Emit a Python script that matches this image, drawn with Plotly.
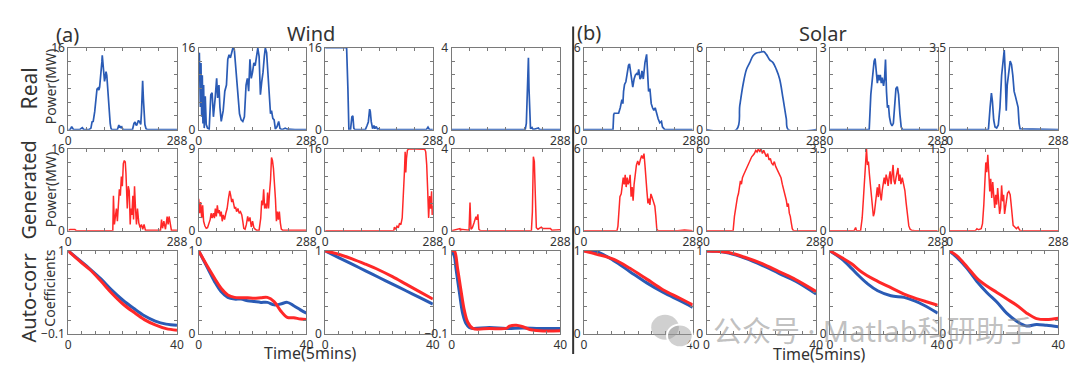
import plotly.graph_objects as go

BLUE = "#2a5bb5"
RED = "#ff2828"

# ---------------- Row 1: real power (wind 1-4, solar 5-8) ----------------
real_c1_x = [0,5,9,11,14,30,37,39,41,55,60,63,66,70,73,76,79,81,83,85,87,89,90,92,93,95,96,98,100,102,104,107,109,111,113,115,130,134,136,138,140,142,145,170,174,177,179,181,183,186,189,192,194,196,197,199,201,203,206,210,288]
real_c1_y = [0,0,0.6,0.2,0,0,0.4,0.2,0,0,0.3,1.5,1.6,3.5,5.8,7.9,8.1,7.7,8.3,9.8,10.7,13.2,14.5,13.0,11.6,10.5,9.4,10.2,11.3,10.6,8.0,5.0,3.0,1.2,0.3,0,0,0.9,0.4,0.7,0.3,0.5,0,0,1.2,1.5,1.0,0.8,1.2,1.8,1.5,1.0,3.5,7.0,9.5,6.0,2.5,1.0,0.2,0,0]

real_c2_x = [0,1.7,4.4,6.1,7.9,9.6,11.3,13.1,14.8,17.5,20.1,23.6,28,32.3,35.8,39.3,43.7,48,50.6,54.1,56.7,60.2,65.5,69.8,74.2,77.7,81.2,84.7,88.2,91.7,95.2,98.6,101.3,104.8,109.1,113.5,117.9,122.2,126.6,130.1,133.6,137,140.5,144,147.5,151,154.5,158,161.5,165,168.5,172,175.5,178.1,181.6,185,188.6,192,194.7,198.2,201.7,205,209.5,213.9,217.4,222.6,231.3,236.6,257.5,288]
real_c2_y = [14,15,4.4,13,2.5,10.6,1.2,8.7,0.3,6.5,1.0,0.3,0.1,6.8,7.2,2.5,5.9,10,6.2,8.7,4.4,1.6,3.7,7.5,8.7,13.7,14.6,14,15,16,15.6,12.5,10.6,5.6,3.1,1.9,1.6,2.5,8.7,10,7.5,13.7,10,11.2,13,12.5,14.3,15.9,14.3,6.8,9.3,11.2,14.3,15.9,15,10.6,6.2,3.1,3.7,2.2,1.9,0.1,0.6,1.6,0.25,0,0.3,0.1,0,0]

real_c3_x = [0,57.3,60.8,63.4,67.8,71.4,74,76.6,79.3,107.5,112,115.4,118.9,120.7,123.3,126.9,130.4,133,136.6,140,143.6,147,270.5,275,279,288]
real_c3_y = [16,16,8,0,0,2.5,2.7,0.3,0,0,0.8,1.5,4.0,3.5,1.5,0.2,0.8,0.2,0.6,0.1,0.2,0,0,0.5,0,0]

real_c4_x = [0,195,198,200,202,203.5,205,207,209,213,216,230,233,288]
real_c4_y = [0,0,0.3,2.0,3.5,3.5,2.0,0.3,0.05,0.1,0,0.08,0,0]

real_c5_x = [0,76.8,78.6,80.3,91.7,96,100.4,103,104.8,107.4,110.9,113.5,117.9,120.5,124,126.6,129.2,132.7,136.2,139.7,142.3,144.9,148.4,151,153.6,157.1,161.5,165.9,168.5,171.1,174.6,178.1,181.6,185.1,188.6,192.1,196.4,200.8,205.2,207.8,211.3,213.9,288]
real_c5_y = [0,0,1.1,1.2,1.2,1.6,2.2,1.9,2.8,3.3,3.5,4.0,4.7,4.8,4.2,3.6,3.1,3.7,4.0,4.1,4.0,4.4,3.7,3.8,4.3,3.7,4.9,5.5,4.4,2.8,3.0,1.9,1.6,1.4,1.6,1.2,0.8,0.5,0.6,0.2,0.05,0,0]

real_c6_x = [0,78.6,87.3,96,104.8,113.5,122.2,131,139.7,150.2,157.1,165.9,174.6,183.3,192,200.8,209.5,214.8,288]
real_c6_y = [0,0,1.75,3.3,4.4,4.9,5.4,5.6,5.65,5.7,5.5,5.1,4.9,4.4,3.7,2.3,0.8,0,0]

real_c7_x = [0,104.8,109.1,113.5,117.9,120.5,124,126.6,129.2,131.8,134.4,137.1,139.7,143.2,145.8,148.4,151,153.6,156.3,158.9,162.4,165.9,169.4,172.9,176.3,179.8,183.3,186.8,190.3,193.8,288]
real_c7_y = [0,0,1.28,1.98,2.5,2.6,2.2,1.7,2.0,1.8,2.0,1.7,1.9,1.6,1.85,2.56,1.4,0.8,0.9,0.47,0.23,0.14,0.23,0.8,1.5,1.57,1.28,0.58,0.1,0,0]

real_c8_x = [0,103,107.4,110.9,113.5,117,120.5,124.8,129.2,133.6,137.9,142.3,144.9,147.5,150.2,152.8,155.4,158,160.6,164.1,167.6,171.1,174.6,178.1,181.6,184.2,186.8,288]
real_c8_y = [0,0,0.95,1.56,1.22,0.41,0.11,0.07,0.2,0.95,2.31,3.12,3.39,2.44,0.81,1.9,2.17,2.58,2.92,2.78,2.31,1.63,1.42,1.22,0.95,0.27,0.03,0]

# ---------------- Row 2: generated power ----------------
gen_c1_x = [0,4.4,17.5,21.8,117.9,119.6,122.2,124.8,127.5,130.1,132.7,135.3,137.9,140.6,143.2,145.8,148.4,151,152.8,154.5,156.3,158.9,161.5,164.1,165.9,168.5,171.1,172.9,175.5,178.1,180.7,183.3,186.8,190.3,193.8,197.3,200.8,204.3,244.4,247.1,249.7,253.2,257.5,261.9,264.5,267.1,270.6,273.2,288]
gen_c1_y = [0.1,0.25,0.25,0,0,6.85,1.25,2.5,4.36,1.87,5.6,8.1,6.85,10.6,8.7,13.1,13.7,13.4,11.2,8.1,4.36,8.7,7.8,1.25,4.36,3.1,6.85,2.2,8.7,4.36,1.25,4.36,1.56,0.62,1.25,0.31,1.25,0.12,0.12,2.2,0.5,1.87,0.31,2.8,1.25,2.8,0.93,0.12,0.12]

gen_c2_x = [0,2.6,5.2,7.9,10.5,13.1,16.6,20.1,23.6,27.1,30.6,33.2,35.8,39.3,41.9,44.5,47.1,49.8,52.4,55,57.6,60.2,62.9,65.5,69,72.5,76,79.4,82.9,85.6,88.2,90.8,93.4,96,98.6,101.3,104.8,108.3,111.7,115.2,117.9,120.5,124,127.5,131,133.6,137.1,140.6,144,147.5,151,154.5,161.5,165.9,168.5,171.1,173.7,176.3,179,181.6,184.2,186.8,189.4,192.1,194.7,197.3,199.9,202.5,205.2,207.8,210.4,213,215.6,218.3,220.9,224.4,288]
gen_c2_y = [3.5,1.93,3.15,1.4,2.8,1.05,0.53,0.28,0.35,0.7,1.23,1.93,1.4,1.93,1.4,2.45,1.58,2.8,1.93,2.28,1.58,2.1,1.05,1.75,1.23,1.93,2.45,3.5,4.38,3.85,3.15,3.5,2.8,2.45,2.63,2.1,2.45,1.93,2.1,1.75,1.05,0.28,0.18,0.7,1.58,1.05,1.47,0.42,1.05,0.35,0.18,0.07,0.07,1.4,3.33,2.8,4.55,2.45,2.98,2.45,4.2,2.45,4.2,5.6,8.05,7.7,6.83,5.6,3.5,1.05,2.1,1.23,2.1,0.88,0.18,0.07,0.07]

gen_c3_x = [0,183.3,185.1,188.6,192.1,195.6,199,202.5,206,209.5,212.1,213.9,215.6,217.4,220,223.5,235.7,253.2,266.3,268.9,271.5,274.1,276.7,279.4,282,284.6,286.3,288]
gen_c3_y = [0,0,0.7,0.3,0.9,0.6,1.5,1.2,2.5,6.8,11.7,15.4,11.4,14.1,15.7,16,16,16,15.9,15.4,12.9,8.0,2.5,6.8,4.3,7.7,3.1,4.9]

gen_c4_x = [0,21.8,23.5,25.2,46.1,48.7,51.3,54.8,59.2,61.8,64.4,67,69.6,72.2,76.6,211.4,214,216.6,219.2,221.9,224.5,228.8,237.5,241,261.9,265.4,285.4,288]
gen_c4_y = [0,0.11,0,0.08,0.03,1.38,0.08,0.15,0.38,0.62,0.69,0.54,0.8,0.08,0,0,0.92,3.61,3.38,1.69,0.15,0.08,0.18,0.12,0.11,0.03,0.08,0.05]

gen_c5_x = [0,87.3,89.9,92.5,95.2,98.6,101.3,103.9,106.5,109.1,111.7,114.4,117,119.6,122.2,124.8,127.5,130.1,132.7,135.3,138.8,142.3,145.8,149.3,152.8,156.3,158.9,161.5,164.1,166.7,169.4,172,174.6,177.2,179.8,182.5,185.1,187.7,190.3,192.9,196.4,248.8,266.3,288]
gen_c5_y = [0,0,0.35,1.5,2.5,2.7,3.4,3.9,3.4,4.1,3.2,3.9,3.4,3.6,4.1,2.5,3.2,2.2,3.4,4.1,4.8,5.1,4.8,5.2,5.5,5.3,5.65,4.8,4.1,2.9,2.0,2.35,1.9,2.7,2.5,2.2,2.1,1.8,1.06,0.12,0,0,0.07,0]

gen_c6_x = [0,69.8,73.3,75.9,78.6,81.2,83.8,86.4,89,91.7,94.3,97.8,101.3,104.8,108.3,111.7,115.2,118.7,122.2,125.7,129.2,132.7,136.2,139.7,143.2,146.7,150.2,153.6,157.1,160.6,164.1,167.6,171.1,174.6,178.1,181.6,185.1,188.6,192.1,195.6,199,202.5,206,209.5,212.1,214.8,217.4,220,222.6,225.2,228.7,288]
gen_c6_y = [0,0,1.06,1.76,2.0,2.47,2.71,3.18,3.65,3.41,3.88,4.12,4.35,4.47,4.82,4.94,5.18,5.41,5.53,5.65,5.88,5.76,6,5.76,6,5.65,5.88,5.65,5.41,5.65,5.18,5.29,4.94,4.82,5.06,4.71,4.47,4.24,4.12,3.88,3.41,3.06,2.71,2.24,1.76,2.0,1.29,1.06,0.59,0.16,0,0]

gen_c7_x = [0,64.1,68.5,71.1,81.7,86,89.6,93.1,95.7,97.5,100.1,102.7,105.4,108,110.6,113.3,115.9,118.5,121.2,123.8,126.4,129.1,131.7,134.3,137,139.6,142.2,144.9,147.5,150.1,152.8,155.4,158,160.7,163.3,165.9,168.6,171.2,173.8,176.5,179.1,181.7,184.4,187,189.6,193.2,196.7,200.2,203.7,207.2,210.7,214.2,217.7,226.5,288]
gen_c7_y = [0,0,0.14,0,0,0.55,1.44,2.27,3.36,3.5,2.81,2.95,2.4,1.99,1.44,0.89,0.62,0.76,1.17,1.72,1.85,1.44,1.99,1.58,1.3,1.72,1.99,2.27,1.99,2.4,2.2,1.92,2.27,2.54,1.99,2.4,2.81,2.13,1.99,2.27,2.47,2.68,2.13,2.4,1.99,2.27,1.99,1.72,1.17,0.62,0.21,0.07,0.03,0,0]

gen_c8_x = [0,68.1,72.5,76.8,83.8,87.3,90.8,93.4,96,98.6,101.3,103.9,106.5,109.1,111.7,114.4,117,119.6,122.2,124.8,127.5,130.1,132.7,135.3,137.9,140.6,143.2,145.8,148.4,151,153.6,157.1,160.6,163.3,165.9,168.5,172.9,177.2,181.6,186,190.3,288]
gen_c8_y = [0,0,0.04,0.02,0.04,0.13,0.48,0.95,1.25,1.07,1.39,1.07,0.72,0.95,0.6,0.89,0.54,0.42,0.66,0.48,0.78,0.54,0.31,0.42,0.83,0.54,0.66,0.31,0.45,0.6,0.69,0.72,0.66,0.48,0.25,0.1,0.07,0.04,0.07,0.01,0,0]

# ---------------- Row 3: auto-correlation coefficients (lag 0..40) ----------------
ac_c1_x = [0,4,8,12,16,20,24,28,32,36,40]
ac_c1_real = [1.0,0.88,0.76,0.63,0.48,0.35,0.24,0.14,0.07,0.03,0.015]
ac_c1_gen = [1.0,0.87,0.75,0.60,0.44,0.30,0.19,0.09,0.02,-0.03,-0.05]

ac_c2_x = [0,3.4,5.9,8.3,10.8,13.3,15.7,18.2,20.6,23.1,25.5,28,30.4,32.9,35.3,37.8,40]
ac_c2_real = [1,0.786,0.63,0.51,0.44,0.42,0.42,0.40,0.39,0.38,0.38,0.35,0.36,0.38,0.34,0.29,0.25]
ac_c2_gen = [1,0.805,0.67,0.55,0.47,0.44,0.436,0.436,0.43,0.436,0.44,0.39,0.28,0.20,0.195,0.18,0.175]

ac_c3_x = [0,5,10,15,20,25,30,35,40]
ac_c3_real = [1,0.92,0.84,0.76,0.68,0.60,0.52,0.44,0.36]
ac_c3_gen = [1,0.96,0.905,0.84,0.77,0.69,0.60,0.51,0.42]

ac_c4_x_real = [0,1,1.6,2.8,4.1,5.3,6.5,7.8,13.9,20.1,26.2,32.4,40]
ac_c4_real = [1,0.93,0.765,0.465,0.165,0.037,-0.014,-0.027,-0.014,-0.027,-0.02,-0.027,-0.027]
ac_c4_x_gen = [0,1,2.2,3.4,4.7,5.9,7.8,13.9,20.1,21.3,23.8,26.2,28.7,32.4,40]
ac_c4_gen = [1,1.0,0.765,0.486,0.208,0.058,-0.027,-0.027,-0.027,0.003,0.015,-0.005,-0.04,-0.057,-0.057]

ac_c5_x = [0,4.7,10.8,16.9,23.1,29.2,35.3,40]
ac_c5_real = [1,0.99,0.885,0.75,0.615,0.5,0.40,0.32]
ac_c5_gen = [1,0.96,0.90,0.79,0.66,0.53,0.43,0.35]

ac_c6_x = [0,4,8.1,14.2,20.3,26.4,32.5,40]
ac_c6_real = [1,0.995,0.973,0.91,0.827,0.73,0.635,0.48]
ac_c6_gen = [1,0.995,0.98,0.92,0.846,0.75,0.654,0.51]

ac_c7_x_real = [0,4.3,8,10.4,14.1,17.7,22.6,27.5,31.2,34.9,40]
ac_c7_real = [1,0.904,0.79,0.71,0.60,0.52,0.46,0.44,0.40,0.346,0.25]
ac_c7_x_gen = [0,4.3,8,11.6,16.5,22.6,27.5,32.4,36.1,40]
ac_c7_gen = [1,0.92,0.846,0.75,0.654,0.557,0.48,0.423,0.385,0.346]

ac_c8_x = [0,2.7,6.4,10,13.7,17.4,21,24.7,28.4,32,35.7,40]
ac_c8_real = [1,0.92,0.79,0.635,0.5,0.385,0.25,0.154,0.096,0.115,0.104,0.088]
ac_c8_gen = [1,0.94,0.81,0.673,0.577,0.5,0.423,0.346,0.25,0.185,0.173,0.19]

real_ymax = [16, 16, 16, 4, 6, 6, 3, 3.5]
gen_ymax = [16, 9, 16, 4, 6, 6, 3.5, 1.5]
ac_ymin = [-0.1, 0, 0, -0.1, 0, 0, 0, 0]
power_xmax = 288
lag_xmax = 40

real_series = [(real_c1_x, real_c1_y), (real_c2_x, real_c2_y), (real_c3_x, real_c3_y), (real_c4_x, real_c4_y),
               (real_c5_x, real_c5_y), (real_c6_x, real_c6_y), (real_c7_x, real_c7_y), (real_c8_x, real_c8_y)]
gen_series = [(gen_c1_x, gen_c1_y), (gen_c2_x, gen_c2_y), (gen_c3_x, gen_c3_y), (gen_c4_x, gen_c4_y),
              (gen_c5_x, gen_c5_y), (gen_c6_x, gen_c6_y), (gen_c7_x, gen_c7_y), (gen_c8_x, gen_c8_y)]
ac_series = [
    (ac_c1_x, ac_c1_real, ac_c1_x, ac_c1_gen),
    (ac_c2_x, ac_c2_real, ac_c2_x, ac_c2_gen),
    (ac_c3_x, ac_c3_real, ac_c3_x, ac_c3_gen),
    (ac_c4_x_real, ac_c4_real, ac_c4_x_gen, ac_c4_gen),
    (ac_c5_x, ac_c5_real, ac_c5_x, ac_c5_gen),
    (ac_c6_x, ac_c6_real, ac_c6_x, ac_c6_gen),
    (ac_c7_x_real, ac_c7_real, ac_c7_x_gen, ac_c7_gen),
    (ac_c8_x, ac_c8_real, ac_c8_x, ac_c8_gen),
]

W, H = 1080, 375
col_px = [(58, 168), (190, 299), (318, 427), (446, 556), (580, 690), (704, 815), (829, 938), (950, 1060)]
row_px = [(32, 118), (138, 224), (245, 332)]

FONT = "Noto Sans, Noto Sans CJK SC, sans-serif"
AXC = "#7a7a7a"


def fmt(v):
    if float(v).is_integer():
        return str(int(v))
    return str(v).replace("-", "\u2212")


fig = go.Figure()
layout = {}


def axes(idx, r, c, xmax, ymin, ymax, nx, ny):
    sfx = "" if idx == 1 else str(idx)
    x0, x1 = col_px[c]
    y0, y1 = row_px[r]
    common = dict(showline=True, linecolor=AXC, linewidth=1, mirror="allticks", ticks="inside",
                  ticklen=3, tickcolor=AXC, tickwidth=1, showgrid=False, zeroline=False,
                  tickfont=dict(family=FONT, size=12, color="#333"), fixedrange=True,
                  tickmode="array")
    xv = [xmax * k / nx for k in range(nx + 1)]
    xt = [fmt(0)] + [""] * (nx - 1) + [fmt(xmax)]
    yv = [ymin + (ymax - ymin) * k / ny for k in range(ny + 1)]
    yt = [fmt(ymin)] + [""] * (ny - 1) + [fmt(ymax)]
    layout["xaxis" + sfx] = dict(common, domain=[x0 / W, x1 / W], range=[0, xmax], anchor="y" + sfx,
                                 tickvals=xv, ticktext=xt, ticklabelstandoff=0)
    layout["yaxis" + sfx] = dict(common, domain=[1 - y1 / H, 1 - y0 / H], range=[ymin, ymax], anchor="x" + sfx,
                                 tickvals=yv, ticktext=yt, ticklabelstandoff=0)
    return "x" + sfx, "y" + sfx


idx = 0
for c in range(8):
    idx = 1 + c
    xa, ya = axes(idx, 0, c, power_xmax, 0, real_ymax[c], 6, 6)
    xs, ys = real_series[c]
    fig.add_trace(go.Scatter(x=xs, y=ys, mode="lines", line=dict(color=BLUE, width=1.7,
                             shape="spline" if c == 5 else "linear"),
                             xaxis=xa, yaxis=ya, showlegend=False, hoverinfo="skip"))
for c in range(8):
    idx = 9 + c
    xa, ya = axes(idx, 1, c, power_xmax, 0, gen_ymax[c], 6, 6)
    xs, ys = gen_series[c]
    fig.add_trace(go.Scatter(x=xs, y=ys, mode="lines", line=dict(color=RED, width=1.5),
                             xaxis=xa, yaxis=ya, showlegend=False, hoverinfo="skip"))
for c in range(8):
    idx = 17 + c
    xa, ya = axes(idx, 2, c, lag_xmax, ac_ymin[c], 1, 8, 6)
    xr, yr, xg, yg = ac_series[c]
    fig.add_trace(go.Scatter(x=xr, y=yr, mode="lines", line=dict(color=BLUE, width=3, shape="spline"),
                             xaxis=xa, yaxis=ya, showlegend=False, hoverinfo="skip"))
    fig.add_trace(go.Scatter(x=xg, y=yg, mode="lines", line=dict(color=RED, width=3, shape="spline"),
                             xaxis=xa, yaxis=ya, showlegend=False, hoverinfo="skip"))


def ann(text, px, py, size, angle=0, color="#333"):
    return dict(text=text, x=px / W, y=1 - py / H, xref="paper", yref="paper", showarrow=False,
                textangle=angle, font=dict(family=FONT, size=size, color=color),
                xanchor="center", yanchor="middle")


annotations = [
    ann("(a)", 57, 18, 20),
    ann("Wind", 304, 17, 20),
    ann("(b)", 585, 16, 20),
    ann("Solar", 822, 17, 20),
    ann("Real", 18, 75, 21, -90),
    ann("Power(MW)", 40, 73, 14, -90),
    ann("Generated", 18, 181, 20, -90),
    ann("Power(MW)", 40, 181, 14, -90),
    ann("Auto-corr", 18, 294, 20, -90),
    ann("Coefficients", 39, 284, 14, -90),
    ann("Time(5mins)", 303, 352, 16),
    ann("Time(5mins)", 818, 353, 16),
    ann("公众号 · Matlab科研助手", 872, 328, 29, 0, "rgba(140,140,140,0.55)"),
]

shapes = [
    dict(type="line", xref="paper", yref="paper", x0=569 / W, x1=569 / W, y0=1 - 10 / H, y1=1 - 353 / H,
         line=dict(color="#333", width=2)),
    dict(type="circle", xref="paper", yref="paper", x0=648 / W, x1=676 / W, y0=1 - 338 / H, y1=1 - 312 / H,
         fillcolor="rgba(150,150,150,0.45)", line=dict(width=0)),
    dict(type="circle", xref="paper", yref="paper", x0=664 / W, x1=690 / W, y0=1 - 346 / H, y1=1 - 322 / H,
         fillcolor="rgba(150,150,150,0.45)", line=dict(color="white", width=2)),
]

fig.update_layout(**layout)
fig.update_layout(width=W, height=H, margin=dict(l=0, r=0, t=0, b=0), paper_bgcolor="white",
                  plot_bgcolor="white", annotations=annotations, shapes=shapes,
                  font=dict(family=FONT, color="#333"))
fig.write_html("out.html")
